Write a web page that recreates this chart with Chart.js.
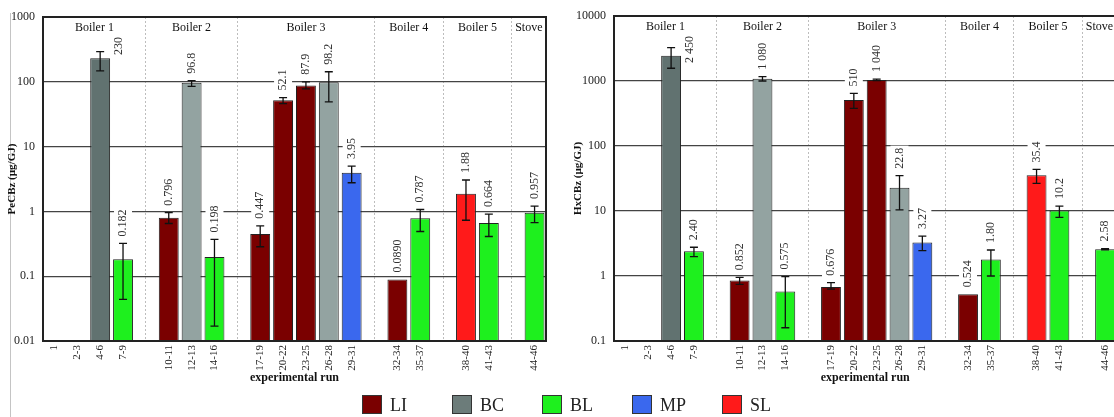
<html>
<head>
<script src="https://cdn.jsdelivr.net/npm/chart.js@4.4.3/dist/chart.umd.min.js"></script>
<style>
  body { margin: 0; background: #fff; overflow: hidden; width: 1114px; height: 417px; position: relative; }
  canvas { position: absolute; top: 0; }
  #frame { position: absolute; left: 10px; top: 13px; width: 1px; height: 404px; background: #c4c4c4; }
  .key { position: absolute; top: 395px; font: 18px "Liberation Serif", serif; color: #222; line-height: 19px; }
  .key span { display: inline-block; width: 18px; height: 17px; border: 1px solid #333; vertical-align: -3px; margin-right: 8px; }
</style>
</head>
<body>
<div id="frame"></div>
<canvas id="left" width="560" height="417" style="left:0"></canvas>
<canvas id="right" width="570" height="417" style="left:560px"></canvas>
<div class="key" style="left:362px"><span style="background:#7a0000"></span>LI</div>
<div class="key" style="left:452px"><span style="background:#6c7c7a"></span>BC</div>
<div class="key" style="left:542px"><span style="background:#1ef01e"></span>BL</div>
<div class="key" style="left:632px"><span style="background:#3a68ee"></span>MP</div>
<div class="key" style="left:722px"><span style="background:#ff1a1a"></span>SL</div>
<script>
    // experimental runs, '' = gap between boilers
    const runs = ['1', '2-3', '4-6', '7-9', '', '10-11', '12-13', '14-16', '', '17-19', '20-22', '23-25', '26-28', '29-31', '', '32-34', '35-37', '', '38-40', '41-43', '', '44-46'];
    const fuel = [null, null, 'BCd', 'BL', null, 'LI', 'BC', 'BL', null, 'LI', 'LI', 'LI', 'BC', 'MP', null, 'LI', 'BL', null, 'SL', 'BL', null, 'BL'];
    const groups = ['Boiler 1', 'Boiler 2', 'Boiler 3', 'Boiler 4', 'Boiler 5', 'Stove'];
    const groupFirst = [0, 5, 9, 15, 18, 21];
    const groupLast = [3, 7, 13, 16, 19, 21];

    // PeCBz
    const pecbz = [null, null, 230, 0.182, null, 0.796, 96.8, 0.198, null, 0.447, 52.1, 87.9, 98.2, 3.95, null, 0.0890, 0.787, null, 1.88, 0.664, null, 0.957];
    const pecbzLow = [null, null, 147, 0.044, null, 0.65, 85, 0.017, null, 0.285, 46, 78, 49, 2.77, null, null, 0.49, null, 0.73, 0.41, null, 0.67];
    const pecbzHigh = [null, null, 292, 0.32, null, 0.955, 104, 0.37, null, 0.6, 57, 100, 143, 5.0, null, null, 1.07, null, 3.05, 0.91, null, 1.21];
    const pecbzText = [null, null, '230', '0.182', null, '0.796', '96.8', '0.198', null, '0.447', '52.1', '87.9', '98.2', '3.95', null, '0.0890', '0.787', null, '1.88', '0.664', null, '0.957'];
    const pecbzTicks = ['0.01', '0.1', '1', '10', '100', '1000'];

    // HxCBz
    const hxcbz = [null, null, 2450, 2.40, null, 0.852, 1080, 0.575, null, 0.676, 510, 1040, 22.8, 3.27, null, 0.524, 1.80, null, 35.4, 10.2, null, 2.58];
    const hxcbzLow = [null, null, 1570, 1.99, null, 0.745, 1000, 0.16, null, 0.63, 380, 1010, 10.4, 2.45, null, null, 1.0, null, 26.7, 8.0, null, 2.52];
    const hxcbzHigh = [null, null, 3260, 2.77, null, 0.955, 1166, 0.98, null, 0.79, 645, 1070, 35, 4.12, null, null, 2.51, null, 43.6, 11.9, null, 2.64];
    const hxcbzText = [null, null, '2 450', '2.40', null, '0.852', '1 080', '0.575', null, '0.676', '510', '1 040', '22.8', '3.27', null, '0.524', '1.80', null, '35.4', '10.2', null, '2.58'];
    const hxcbzTicks = ['0.1', '1', '10', '100', '1000', '10000'];

    const colors = { LI: '#7a0000', BCd: '#617270', BC: '#93a3a1', BL: '#1ef01e', MP: '#3a68ee', SL: '#ff1a1a' };
    const serif = '"Liberation Serif", serif';

    function makeChart(id, values, low, high, text, tickLabels, title, pad) {
        const n = runs.length;
        const extras = {
            id: 'extras',
            afterDatasetsDraw(chart) {
                const ctx = chart.ctx, a = chart.chartArea;
                const xs = chart.scales.x, ys = chart.scales.y;
                const slot = xs.getPixelForValue(1) - xs.getPixelForValue(0);
                const barW = slot * 0.87;
                ctx.save();
                // error bars
                ctx.strokeStyle = '#111';
                ctx.lineWidth = 1.3;
                for (let i = 0; i < n; i++) {
                    if (low[i] == null) continue;
                    const x = xs.getPixelForValue(i);
                    const y1 = ys.getPixelForValue(low[i]), y2 = ys.getPixelForValue(high[i]);
                    ctx.beginPath();
                    ctx.moveTo(x, y1); ctx.lineTo(x, y2);
                    ctx.moveTo(x - 4, y1); ctx.lineTo(x + 4, y1);
                    ctx.moveTo(x - 4, y2); ctx.lineTo(x + 4, y2);
                    ctx.stroke();
                }
                // value labels
                ctx.font = '12px ' + serif;
                ctx.textBaseline = 'middle';
                ctx.textAlign = 'left';
                for (let i = 0; i < n; i++) {
                    if (text[i] == null) continue;
                    let x = xs.getPixelForValue(i);
                    const top = ys.getPixelForValue(high[i] != null ? high[i] : values[i]);
                    const w = ctx.measureText(text[i]).width;
                    let bottom = top - 7;
                    if (bottom - w < a.top + 20) {
                        bottom = a.top + 20 + w;
                        x += barW / 2 + 9;
                    }
                    ctx.fillStyle = '#fff';
                    ctx.fillRect(x - 9, bottom - w - 2, 18, w + 4);
                    ctx.save();
                    ctx.translate(x, bottom);
                    ctx.rotate(-Math.PI / 2);
                    ctx.fillStyle = '#333';
                    ctx.fillText(text[i], 0, 0);
                    ctx.restore();
                }
                // group names
                ctx.font = '12px ' + serif;
                ctx.textAlign = 'center';
                ctx.fillStyle = '#111';
                groups.forEach((g, k) => {
                    const lb = groupFirst[k] === 0 ? -0.5 : groupFirst[k] - 1;
                    const rb = groupLast[k] === n - 1 ? groupLast[k] + 0.5 : groupLast[k] + 1;
                    const l = xs.getPixelForValue(0) + lb * slot, r = xs.getPixelForValue(0) + rb * slot;
                    ctx.fillText(g, (l + r) / 2, a.top + 11);
                });
                // frame
                ctx.strokeStyle = '#222';
                ctx.lineWidth = 2;
                ctx.strokeRect(a.left, a.top, a.right - a.left, a.bottom - a.top);
                ctx.restore();
            }
        };

        new Chart(document.getElementById(id), {
            type: 'bar',
            data: {
                labels: runs,
                datasets: [{
                    data: values,
                    backgroundColor: fuel.map(f => f ? colors[f] : 'transparent'),
                    borderColor: '#222',
                    borderWidth: 1,
                    barPercentage: 0.87,
                    categoryPercentage: 1
                }]
            },
            options: {
                responsive: false,
                animation: false,
                layout: { padding: { left: pad.left, right: pad.right, top: pad.top, bottom: 30 } },
                plugins: { legend: { display: false }, tooltip: { enabled: false } },
                scales: {
                    x: {
                        afterFit: s => { s.height = 46; },
                        grid: {
                            offset: false,
                            drawTicks: false,
                            color: c => runs[c.index] === '' ? '#bdbdbd' : 'transparent',
                            lineWidth: 1
                        },
                        border: { color: '#222', width: 2, dash: [2, 2] },
                        ticks: {
                            autoSkip: false, minRotation: 90, maxRotation: 90, padding: 4,
                            color: '#222', font: { family: serif, size: 11 }
                        },
                        title: {
                            display: true, text: 'experimental run', color: '#111',
                            font: { family: serif, size: 12, weight: 'bold' },
                            padding: { top: 0, bottom: 2 }
                        }
                    },
                    y: {
                        type: 'logarithmic',
                        min: Number(tickLabels[0]),
                        max: Number(tickLabels[tickLabels.length - 1]),
                        afterFit: s => { s.width = pad.axis; },
                        afterBuildTicks: s => { s.ticks = tickLabels.map(t => ({ value: Number(t) })); },
                        grid: { color: '#444', lineWidth: 1.3, drawTicks: false },
                        border: { color: '#222', width: 2 },
                        ticks: {
                            padding: 8, color: '#222', font: { family: serif, size: 12 },
                            callback: (v, i) => tickLabels[i]
                        },
                        title: {
                            display: true, text: title, color: '#111',
                            font: { family: serif, size: 11, weight: 'bold' },
                            padding: 0
                        }
                    }
                }
            },
            plugins: [extras]
        });
    }

    makeChart('left', pecbz, pecbzLow, pecbzHigh, pecbzText, pecbzTicks, 'PeCBz (µg/GJ)', { left: 6, right: 14, top: 17, axis: 37 });
    makeChart('right', hxcbz, hxcbzLow, hxcbzHigh, hxcbzText, hxcbzTicks, 'HxCBz (µg/GJ)', { left: 12, right: 13.5, top: 16, axis: 42 });
</script>
</body>
</html>
